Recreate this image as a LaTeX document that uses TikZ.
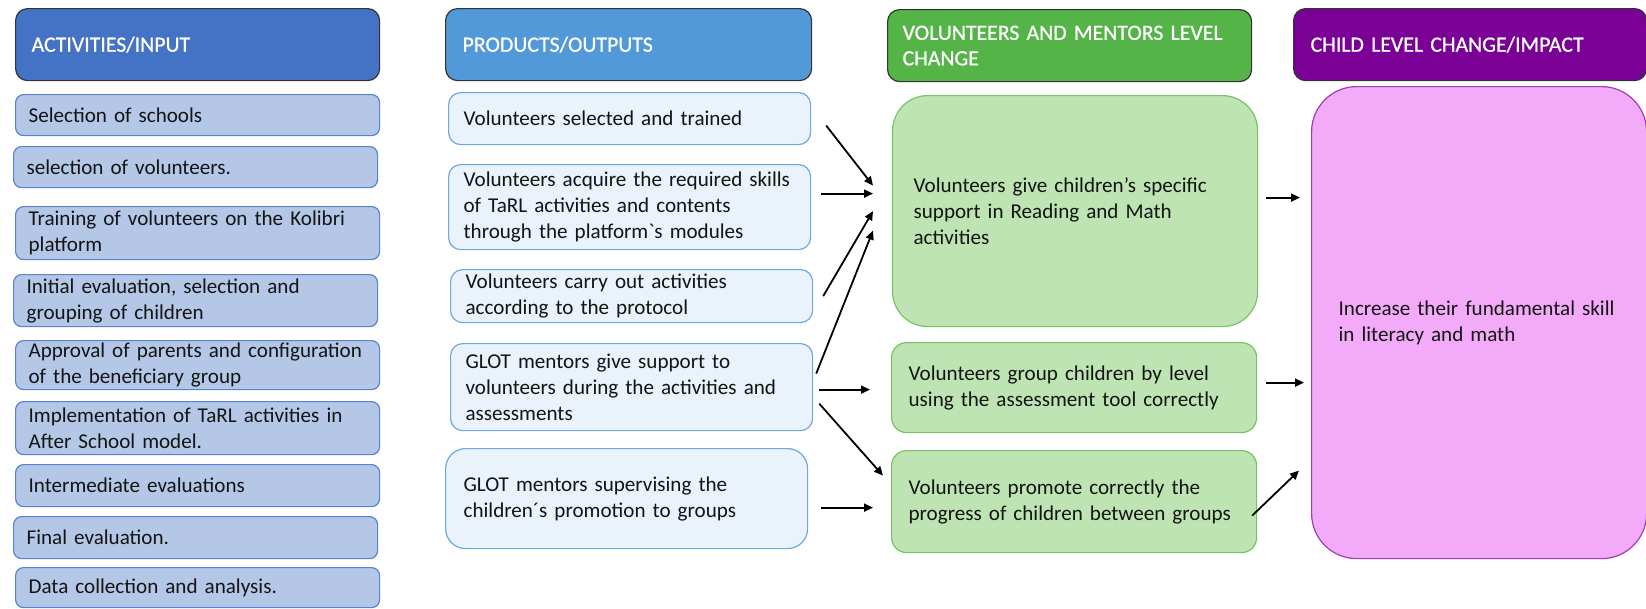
\documentclass[tikz,border=0pt]{standalone}
\usepackage{fontspec}
\setmainfont{Carlito}[Ligatures=TeXOff]
\newfontfamily\headfont{Carlito}[Ligatures=TeXOff,FakeBold=0.8]
\usetikzlibrary{calc,arrows.meta}
\hyphenpenalty=10000

\definecolor{actHead}{HTML}{4472C4}
\definecolor{actFill}{HTML}{B4C7E7}
\definecolor{actLine}{HTML}{5A82D2}
\definecolor{prodHead}{HTML}{5199D8}
\definecolor{prodFill}{HTML}{EAF2FB}
\definecolor{prodLine}{HTML}{6EA8DE}
\definecolor{chgHead}{HTML}{55B447}
\definecolor{chgFill}{HTML}{BEE4B3}
\definecolor{chgLine}{HTML}{78C267}
\definecolor{impHead}{HTML}{7A0096}
\definecolor{impFill}{HTML}{F3AAF9}
\definecolor{impLine}{HTML}{A23BB5}

\tikzset{
  cell/.style={anchor=north west, align=left, line width=1.2pt, inner ysep=0pt,
    text=black!92, font=\fontsize{21.1}{26}\selectfont},
  head/.style={cell, draw=black!80, rounded corners=12pt, text=white,
    font=\headfont\fontsize{21.8}{25.5}\selectfont, minimum height=72pt},
  act/.style={cell, draw=actLine, fill=actFill, rounded corners=8pt,
    inner xsep=13pt, text width=338pt},
  prod/.style={cell, draw=prodLine, fill=prodFill, rounded corners=12pt,
    inner xsep=15pt, text width=332pt},
  chg/.style={cell, draw=chgLine, fill=chgFill, rounded corners=15pt},
  imp/.style={cell, draw=impLine, fill=impFill, rounded corners=45pt},
  arr/.style={-{Triangle[length=9pt,width=8pt]}, line width=1.8pt}
}

\begin{document}
\begin{tikzpicture}[x=1pt,y=-1pt]
  \useasboundingbox (0,0) rectangle (1646,608);

  % column headers
  \node[head, fill=actHead, inner xsep=16pt, text width=332pt] (hAct) at (15,8) {ACTIVITIES/INPUT};
  \node[head, fill=prodHead, inner xsep=17pt, text width=332pt] (hProd) at (445,8) {PRODUCTS/OUTPUTS};
  \node[head, fill=chgHead, inner xsep=15pt, text width=334pt] (hChg) at (887,9) {VOLUNTEERS AND MENTORS LEVEL\\CHANGE};
  \node[head, fill=impHead, inner xsep=17pt, text width=319pt] (hImp) at (1293,8) {CHILD LEVEL CHANGE/IMPACT};

  % activities
  \node[act, minimum height=41pt] (act1) at (15,94) {Selection of schools};
  \node[act, minimum height=41pt] (act2) at (13,146) {selection of volunteers.};
  \node[act, minimum height=53pt] (act3) at (15,206) {Training of volunteers on the Kolibri\\platform};
  \node[act, minimum height=52pt] (act4) at (13,274) {Initial evaluation, selection and\\grouping of children};
  \node[act, minimum height=49pt] (act5) at (15,340) {Approval of parents and configuration\\of the beneficiary group};
  \node[act, minimum height=53pt] (act6) at (15,401) {Implementation of TaRL activities in\\After School model.};
  \node[act, minimum height=42pt] (act7) at (15,464) {Intermediate evaluations};
  \node[act, minimum height=42pt] (act8) at (13,516) {Final evaluation.};
  \node[act, minimum height=40pt] (act9) at (15,567) {Data collection and analysis.};

  % products
  \node[prod, minimum height=52pt] (prod1) at (448,92) {Volunteers selected and trained};
  \node[prod, minimum height=85pt] (prod2) at (448,164) {Volunteers acquire the required skills\\of TaRL activities and contents\\through the platform`s modules};
  \node[prod, minimum height=53pt] (prod3) at (450,269) {Volunteers carry out activities\\according to the protocol};
  \node[prod, minimum height=87pt] (prod4) at (450,343) {GLOT mentors give support to\\volunteers during the activities and\\assessments};
  \node[prod, minimum height=100pt, rounded corners=20pt, inner xsep=18pt, text width=326pt] (prod5) at (445,448) {GLOT mentors supervising the\\children´s promotion to groups};

  % volunteers and mentors level change
  \node[chg, minimum height=231pt, rounded corners=35pt, inner xsep=21pt, text width=323pt] (chg1) at (892,95) {Volunteers give children’s specific\\support in Reading and Math\\activities};
  \node[chg, minimum height=90pt, inner xsep=17pt, text width=331pt] (chg2) at (891,342) {Volunteers group children by level\\using the assessment tool correctly};
  \node[chg, minimum height=102pt, inner xsep=17pt, text width=331pt] (chg3) at (891,450) {Volunteers promote correctly the\\progress of children between groups};

  % child level change
  \node[imp, minimum height=472pt, inner xsep=27pt, text width=281pt] (imp) at (1311,86) {Increase their fundamental skill\\in literacy and math};

  % products -> change
  \draw[arr] ($(prod1.east)+(15,7)$) -- ($(chg1.west)+(-19,-25.5)$);
  \draw[arr] ($(prod2.east)+(10,-13.5)$) -- ($(chg1.west)+(-19,-17.5)$);
  \draw[arr] ($(prod3.east)+(10,0)$) -- ($(chg1.west)+(-19,0)$);
  \draw[arr] ($(prod4.east)+(3,-13.5)$) -- ($(chg1.west)+(-19,19.5)$);
  \draw[arr] ($(prod4.east)+(6,2.5)$) -- ($(chg2.west)+(-21,2)$);
  \draw[arr] ($(prod4.east)+(6,16.5)$) -- ($(chg3.west)+(-8,-26)$);
  \draw[arr] ($(prod5.east)+(13,9)$) -- ($(chg3.west)+(-18,6)$);

  % change -> impact
  \draw[arr] ($(chg1.east)+(8,-13.5)$) -- ($(imp.west)+(-11,-125)$);
  \draw[arr] ($(chg2.east)+(9,-5)$) -- ($(imp.west)+(-7,60)$);
  \draw[arr] ($(chg3.east)+(-5,14)$) -- ($(imp.west)+(-12,148)$);
\end{tikzpicture}
\end{document}
